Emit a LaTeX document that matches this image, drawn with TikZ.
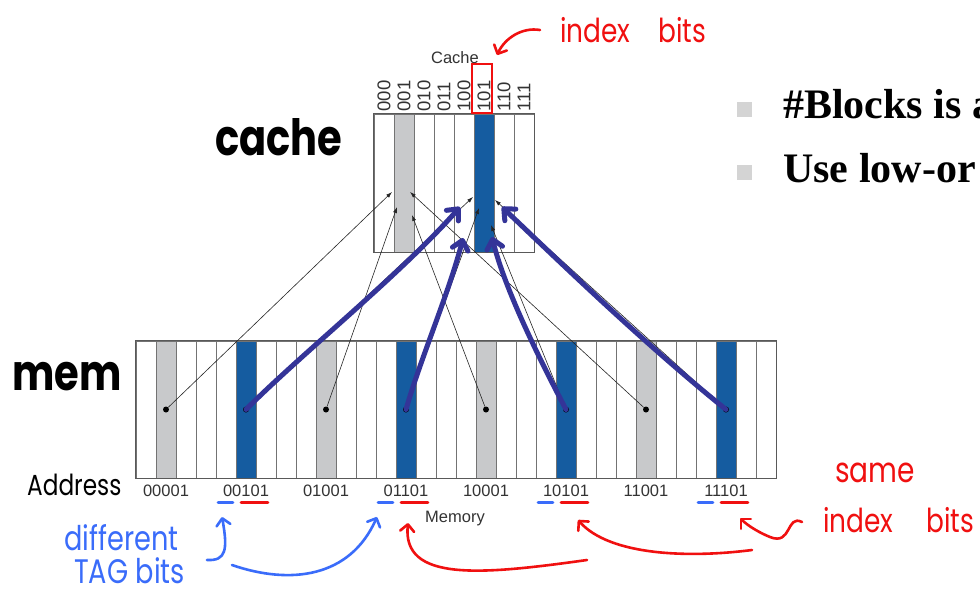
\documentclass[tikz,border=0pt]{standalone}
\usepackage{fontspec}
\setmainfont{Liberation Sans}
\newfontfamily\slidefont{Liberation Serif}
\newfontfamily\handfont{Poppins}[FakeStretch=0.8]
\usetikzlibrary{arrows.meta,positioning}

\definecolor{cellgray}{RGB}{200,201,203}
\definecolor{cellblue}{RGB}{21,92,160}
\definecolor{inkblue}{RGB}{52,52,152}
\definecolor{penred}{RGB}{240,16,16}
\definecolor{penblue}{RGB}{58,108,250}
\definecolor{bulletgray}{RGB}{212,212,212}

\begin{document}
\begin{tikzpicture}[x=1pt, y=-1pt,
    cachecell/.style={draw=black!55, line width=0.7pt, minimum width=20pt, minimum height=138pt, inner sep=0pt},
    memcell/.style={draw=black!55, line width=0.7pt, minimum width=20pt, minimum height=137pt, inner sep=0pt},
    memdot/.style={circle, fill=black, inner sep=0pt, minimum size=6pt},
    plotlabel/.style={font=\fontsize{16.5}{18}\selectfont, text=black!80, inner sep=0pt},
    ptr/.style={-{Latex[length=6pt,width=4pt]}, line width=0.6pt, black!85},
    ink/.style={inkblue, line width=5pt, line cap=round, -{Straight Barb[length=9pt,width=16pt,round]}},
    redpen/.style={penred, line width=2.6pt, line cap=round, -{Straight Barb[length=7pt,width=14pt,round]}},
    bluepen/.style={penblue, line width=2.6pt, line cap=round, -{Straight Barb[length=7pt,width=14pt,round]}},
    hand/.style={font=\handfont\fontsize{#1}{#1}\selectfont, inner sep=0pt, anchor=base west},
    handbold/.style={font=\handfont\bfseries\fontsize{#1}{#1}\selectfont, inner sep=0pt, anchor=base west},
    bullet/.style={fill=bulletgray, minimum size=15pt, inner sep=0pt}]
    \path[fill=white] (0,0) rectangle (980,592);
    \useasboundingbox (0,0) rectangle (980,592);

    % cache lines 000 ... 111
    \foreach \i/\bits in {0/000,1/001,2/010,3/011,4/100,5/101,6/110,7/111} {
        \ifnum\i=1 \def\cfill{cellgray}\else\ifnum\i=5 \def\cfill{cellblue}\else\def\cfill{white}\fi\fi
        \node[cachecell, fill=\cfill] (cc\i) at ({384+20*\i},183) {};
        \node[plotlabel, font=\fontsize{18.5}{20}\selectfont, rotate=90, anchor=west] (b\bits) at ([yshift=2pt]cc\i.north) {\bits};
    }
    \draw[line width=0.9pt, black!65] (cc0.north west) rectangle (cc7.south east);
    \node[plotlabel] (cachetitle) at (455,58) {Cache};

    % memory blocks 0 ... 31
    \foreach \i in {0,...,31} {
        \pgfmathtruncatemacro\r{mod(\i,8)}
        \ifnum\r=1 \def\mfill{cellgray}\else\ifnum\r=5 \def\mfill{cellblue}\else\def\mfill{white}\fi\fi
        \node[memcell, fill=\mfill] (mc\i) at ({146+20*\i},409.5) {};
    }
    \draw[line width=0.9pt, black!65] (mc0.north west) rectangle (mc31.south east);
    \node[plotlabel] (memtitle) at (455,519) {Memory};

    \foreach \i/\addr in {1/00001,5/00101,9/01001,13/01101,17/10001,21/10101,25/11001,29/11101} {
        \node[memdot] (p\addr) at (mc\i) {};
        \node[plotlabel, below=6pt of mc\i] (l\addr) {\addr};
    }

    % where each block lands in the cache
    \coordinate (t00001) at (392,192);
    \coordinate (t01001) at (397,207);
    \coordinate (t10001) at (412,215);
    \coordinate (t11001) at (410,192);
    \coordinate (t00101) at (473,197);
    \coordinate (t01101) at (479,208);
    \coordinate (t10101) at (491,225);
    \coordinate (t11101) at (495,200);
    \draw[ptr] (p00001) -- (t00001);
    \draw[ptr] (p01001) -- (t01001);
    \draw[ptr] (p10001) -- (t10001);
    \draw[ptr] (p11001) -- (t11001);
    \draw[ptr] (p00101) -- (t00101);
    \draw[ptr] (p01101) -- (t01101);
    \draw[ptr] (p10101) -- (t10101);
    \draw[ptr] (p11101) -- (t11101);

    % hand drawn strokes over the blue blocks
    \coordinate (h00101) at (460,207);
    \coordinate (h01101) at (463,238);
    \coordinate (h10101) at (492,237);
    \coordinate (h11101) at (502,207);
    \draw[ink] (p00101.center) .. controls (300,355) and (400,275) .. (h00101);
    \draw[ink] (p01101.center) .. controls (420,360) and (450,290) .. (h01101);
    \draw[ink] (p10101.center) .. controls (540,360) and (505,290) .. (h10101);
    \draw[ink] (p11101.center) .. controls (640,340) and (560,262) .. (h11101);

    % index bits of the cache
    \draw[penred, line width=2pt] ([xshift=-12pt,yshift=1pt]cc5.north) rectangle ([xshift=8pt,yshift=50pt]cc5.north);
    \node[hand=33, penred] (topidx) at (560,42) {index\hspace{28pt}bits};
    \coordinate (topstart) at (540,30);
    \coordinate (toptip) at (497,55);
    \draw[redpen] (topstart) .. controls (522,27) and (505,38) .. (toptip);

    % tag / index underlines
    \foreach \addr in {00101,01101,10101,11101} {
        \draw[penblue, line width=2.6pt, line cap=round] ([xshift=-28pt,yshift=-6pt]l\addr.south) -- ++(15,0);
        \draw[penred, line width=2.6pt, line cap=round] ([xshift=-5pt,yshift=-6pt]l\addr.south) -- ++(27,0);
    }

    % handwritten labels
    \node[handbold=50] (cachelbl) at (215,155) {cache};
    \node[handbold=50] (memlbl) at (12,390) {mem};
    \node[hand=29] (addrlbl) at (27,495) {Address};
    \node[hand=34, penblue] (difflbl) at (64,550) {different};
    \node[hand=34, penblue] (taglbl) at (74,583) {TAG bits};
    \node[hand=35, penred] (samelbl) at (835,482) {same};
    \node[hand=33, penred] (idxlbl) at (823,532) {index\hspace{33pt}bits};

    % blue arrows to the tag bits
    \coordinate (tagstarta) at (207,560);
    \coordinate (tagstartb) at (232,565);
    \coordinate (tagtipa) at (222,517);
    \coordinate (tagtipb) at (377,517);
    \draw[bluepen] (tagstarta) .. controls (226,561) and (228,550) .. (tagtipa);
    \draw[bluepen] (tagstartb) .. controls (290,585) and (350,578) .. (tagtipb);

    % red arrows to the index bits
    \coordinate (idxstarta) at (587,560);
    \coordinate (idxstartb) at (752,550);
    \coordinate (idxstartc) at (802,522);
    \coordinate (idxtipa) at (408,523);
    \coordinate (idxtipb) at (578,520);
    \coordinate (idxtipc) at (740,518);
    \draw[redpen] (idxstartc) .. controls (786,514) and (792,546) .. (770,537) .. controls (760,533) and (748,526) .. (idxtipc);
    \draw[redpen] (idxstartb) .. controls (690,558) and (610,556) .. (idxtipb);
    \draw[redpen] (idxstarta) .. controls (480,575) and (402,582) .. (idxtipa);

    % slide text on the right
    \node[bullet] (bul1) at (744.5,109.5) {};
    \node[bullet] (bul2) at (744.5,172.5) {};
    \node[anchor=base west, inner sep=0pt, font=\slidefont\bfseries\fontsize{42}{48}\selectfont] (pt1) at (783,118) {\#Blocks is a};
    \node[anchor=base west, inner sep=0pt, font=\slidefont\bfseries\fontsize{42}{48}\selectfont] (pt2) at (783,182) {Use low-or};
\end{tikzpicture}
\end{document}
